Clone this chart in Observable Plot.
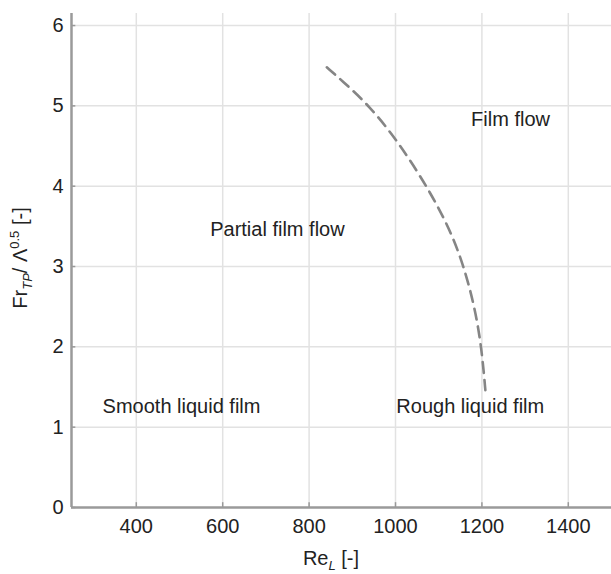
<!DOCTYPE html>
<html>
<head>
<meta charset="utf-8">
<script src="https://cdn.jsdelivr.net/npm/d3@7"></script>
<script src="https://cdn.jsdelivr.net/npm/@observablehq/plot@0.6"></script>
<style>
  html, body { margin: 0; padding: 0; background: #fff; }
  #chart { width: 611px; height: 574px; }
</style>
</head>
<body>
<div id="chart"></div>
<script>
// Axis settings
const xDomain = [250, 1500];
const yDomain = [0, 6.15];
const xTicks = [400, 600, 800, 1000, 1200, 1400];
const yTicks = [0, 1, 2, 3, 4, 5, 6];

// Transition boundary (dashed curve)
const curveRe = [841, 875, 938, 1007, 1083, 1135, 1168, 1191, 1202, 1208];
const curveFr = [5.48, 5.32, 5.01, 4.55, 3.91, 3.36, 2.83, 2.29, 1.83, 1.46];

// Region labels
const regionNames = ["Film flow", "Partial film flow", "Smooth liquid film", "Rough liquid film"];
const regionRe = [1175, 571, 322, 1002];
const regionFr = [4.83, 3.46, 1.26, 1.26];

const curve = curveRe.map((x, i) => ({x, y: curveFr[i]}));
const regions = regionNames.map((name, i) => ({name, x: regionRe[i], y: regionFr[i]}));

const font = "'Liberation Sans', Arial, Helvetica, sans-serif";

const plot = Plot.plot({
  width: 611,
  height: 574,
  marginLeft: 71,
  marginRight: 0,
  marginTop: 13,
  marginBottom: 67,
  style: {fontFamily: font, fontSize: "20px", color: "#222", background: "#fff"},
  x: {domain: xDomain, ticks: xTicks},
  y: {domain: yDomain, ticks: yTicks},
  marks: [
    Plot.gridX(xTicks, {stroke: "#e2e2e2", strokeOpacity: 1, strokeWidth: 1.5}),
    Plot.gridY(yTicks.filter(d => d > 0), {stroke: "#e2e2e2", strokeOpacity: 1, strokeWidth: 1.5}),
    Plot.ruleX(xTicks, {y1: yDomain[0], y2: yDomain[0] + 0.06, stroke: "#999", strokeWidth: 1.5}),
    Plot.ruleY(yTicks, {x1: xDomain[0], x2: xDomain[0] + 10, stroke: "#999", strokeWidth: 1.5}),
    Plot.ruleX([xDomain[0]], {stroke: "#9a9a9a", strokeWidth: 2.5}),
    Plot.ruleY([yDomain[0]], {stroke: "#9a9a9a", strokeWidth: 2.5}),
    Plot.axisX(xTicks, {tickSize: 0, tickPadding: 11, tickFormat: "d", label: null, fontSize: 20, fill: "#222"}),
    Plot.axisY(yTicks, {tickSize: 0, tickPadding: 8, tickFormat: "d", label: null, fontSize: 20, fill: "#222"}),
    Plot.line(curve, {x: "x", y: "y", curve: "basis", stroke: "#858585", strokeWidth: 2.6, strokeDasharray: "11,7"}),
    Plot.text(regions, {x: "x", y: "y", text: "name", textAnchor: "start", fontSize: 20, fill: "#222"})
  ]
});

document.getElementById("chart").appendChild(plot);

// Axis titles with sub/superscripts
const svg = d3.select(plot);
const xl = svg.append("text")
  .attr("x", 331).attr("y", 565)
  .attr("text-anchor", "middle")
  .attr("font-family", font).attr("font-size", 20).attr("fill", "#222");
xl.append("tspan").text("Re");
xl.append("tspan").attr("font-size", 13).attr("font-style", "italic").attr("dy", 5).text("L");
xl.append("tspan").attr("dy", -5).text(" [-]");

const yl = svg.append("text")
  .attr("transform", "translate(27,258) rotate(-90)")
  .attr("text-anchor", "middle")
  .attr("font-family", font).attr("font-size", 20).attr("fill", "#222");
yl.append("tspan").text("Fr");
yl.append("tspan").attr("font-size", 13).attr("font-style", "italic").attr("dy", 5).text("TP");
yl.append("tspan").attr("dy", -5).text("/ Λ");
yl.append("tspan").attr("font-size", 13).attr("dy", -8).text("0.5");
yl.append("tspan").attr("dy", 8).text(" [-]");
</script>
</body>
</html>
